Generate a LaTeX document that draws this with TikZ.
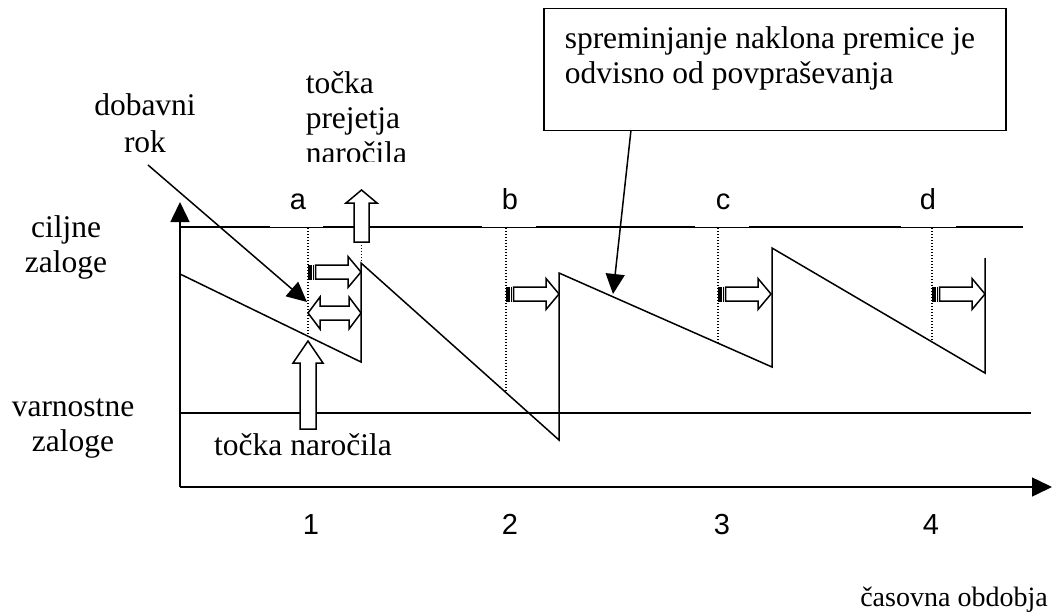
\documentclass[tikz,border=0pt]{standalone}
\usepackage{fontspec}
\setmainfont{Liberation Serif}
\newfontfamily\arialf{Liberation Sans}
\usetikzlibrary{arrows.meta}
\begin{document}
\begin{tikzpicture}[x=1pt,y=-1pt,
  line width=1.5pt,
  lbl/.style={font=\fontsize{31.5}{35}\selectfont, align=center, inner sep=0pt},
  lett/.style={font=\arialf\fontsize{29}{34}\selectfont, inner sep=0pt, anchor=base},
  tip/.style={-{Triangle[length=20pt,width=19pt]}},
  dots/.style={line width=1.2pt, dash pattern=on 1.2pt off 1.8pt},
  fat/.style={draw, fill=white, line width=1.5pt, line join=miter},
  thinline/.style={line width=0.5pt},
  orderarrow/.pic={\fill (0,-7.5) rectangle (4,7.5);
    \draw[line width=1.2pt] (5.8,-7.5) -- (5.8,7.5);
    \draw[fat] (7.5,-7) -- (40,-7) -- (40,-15.5) -- (53,0) -- (40,15.5) -- (40,7) -- (7.5,7) -- cycle;},
  dblarrow/.pic={\draw[fat] (0,0) -- (12,-16) -- (12,-7) -- (41,-7) -- (41,-16) -- (53,0) -- (41,16) -- (41,7) -- (12,7) -- (12,16) -- cycle;},
]
\useasboundingbox (0,0) rectangle (1055,615);

% axes
\coordinate (O) at (180,487);
\coordinate (ytop) at (180,202);
\coordinate (xend) at (1052,487);
\draw[tip] (O) -- (ytop);
\draw[tip] (O) -- (xend);

% target stock line with gaps
\draw (180,227) -- (270,227) (323,227) -- (482,227) (536,227) -- (695,227) (749,227) -- (901,227) (956,227) -- (1023,227);
\draw[thinline] (270,227) -- (323,227) (482,227) -- (536,227) (695,227) -- (749,227) (901,227) -- (956,227);
% safety stock line
\draw (180,413) -- (1031,413);

% sawtooth
\coordinate (s0) at (180,274);
\coordinate (s1) at (361,362);
\coordinate (s2) at (361,263);
\coordinate (s3) at (559,440);
\coordinate (s4) at (559,273);
\coordinate (s5) at (772,367);
\coordinate (s6) at (772,248);
\coordinate (s7) at (985,373);
\coordinate (s8) at (985,258);
\draw (s0) -- (s1) -- (s2) -- (s3) -- (s4) -- (s5) -- (s6) -- (s7) -- (s8);

% dotted verticals
\draw[dots] (308,228) -- (308,336);
\draw[dots] (506,228) -- (506,392);
\draw[dots] (718,228) -- (718,343);
\draw[dots] (932,228) -- (932,342);
\draw[dots] (361.5,242) -- (361.5,263);

% block arrows
\pic (oa) at (308,272) {orderarrow};
\pic (ob) at (506,294) {orderarrow};
\pic (oc) at (718,294) {orderarrow};
\pic (od) at (932,294) {orderarrow};
\pic (lt) at (308,313) {dblarrow};
\begin{scope}[shift={(361.5,242)}]
  \draw[fat] (-7.5,0) -- (-7.5,-39) -- (-15.5,-39) -- (0,-52) -- (15.5,-39) -- (7.5,-39) -- (7.5,0) -- cycle;
\end{scope}
\begin{scope}[shift={(308,429)}]
  \draw[fat] (-8,0) -- (-8,-66) -- (-15,-66) -- (0,-88) -- (15,-66) -- (8,-66) -- (8,0) -- cycle;
\end{scope}

% letters and numbers
\node[lett] (la) at (298,209.5) {a};
\node[lett] (lb) at (510,209.5) {b};
\node[lett] (lc) at (723,209.5) {c};
\node[lett] (ld) at (928,209.5) {d};
\node[lett] (n1) at (311,534) {1};
\node[lett] (n2) at (510,534) {2};
\node[lett] (n3) at (722,534) {3};
\node[lett] (n4) at (931,534) {4};

% texts
\node[lbl, anchor=north] (dob) at (145,93) {dobavni\\[2pt]rok};
\node[lbl, anchor=north] (cilj) at (66,215) {ciljne\\zaloge};
\node[lbl, anchor=north] (varn) at (73,398) {varnostne\\zaloge};
\node[lbl, anchor=base] (tn) at (303,455) {točka naročila};
\node[lbl, anchor=base, font=\fontsize{28}{32}\selectfont] (cas) at (954,606) {časovna obdobja};
\begin{scope}
  \clip (290,55) rectangle (470,162);
  \node[lbl, align=left, anchor=north west] (tp) at (305,71) {točka\\prejetja\\naročila};
\end{scope}

% box
\node[draw, line width=1.5pt, minimum width=462pt, minimum height=122pt, anchor=north west, inner sep=0pt] (box) at (543,8) {};
\node[lbl, align=left, anchor=north west] (boxt) at (564,26) {spreminjanje naklona premice je\\odvisno od povpraševanja};

% pointer arrows
\coordinate (drs) at (148,165);
\coordinate (dre) at (307,302);
\draw[tip] (drs) -- (dre);
\coordinate (bxs) at (631,130);
\coordinate (bxe) at (613,294);
\draw[tip] (bxs) -- (bxe);
\end{tikzpicture}
\end{document}
